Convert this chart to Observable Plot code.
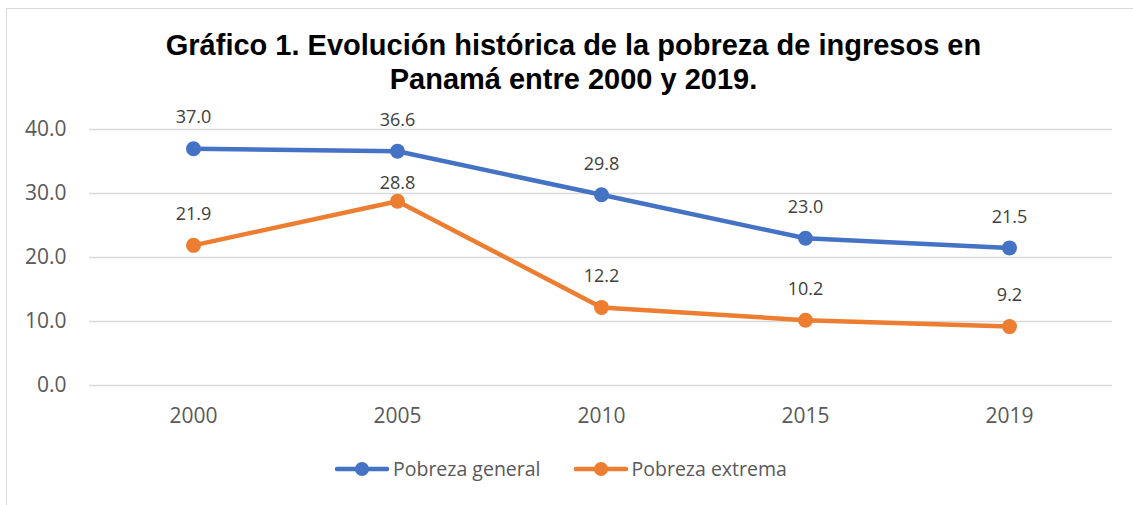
<!DOCTYPE html>
<html>
<head>
<meta charset="utf-8">
<script src="https://cdn.jsdelivr.net/npm/d3@7"></script>
<script src="https://cdn.jsdelivr.net/npm/@observablehq/plot@0.6"></script>
<style>
  html, body { margin: 0; padding: 0; background: #fff; }
  #wrap { position: relative; width: 1133px; height: 505px; overflow: hidden; background: #fff; }
  #frame { position: absolute; left: 6px; top: 8px; width: 1140px; height: 510px; border-top: 1.5px solid #d9d9d9; border-left: 1.5px solid #d9d9d9; box-sizing: border-box; }
  #title { position: absolute; left: 0; top: 28px; width: 1147px; text-align: center; font-family: "Liberation Sans", Arial, sans-serif; font-weight: bold; font-size: 29px; line-height: 34px; color: #000; }
  #chart { position: absolute; left: 0; top: 96px; }
  #legend { position: absolute; left: 335px; top: 455px; display: flex; align-items: center; font-family: "Open Sans", sans-serif; font-size: 19.5px; color: #595959; }
  .item { display: flex; align-items: center; margin-right: 33px; }
  .item span { margin-left: 4px; }
</style>
</head>
<body>
<div id="wrap">
  <div id="frame"></div>
  <div id="title">Gráfico 1. Evolución histórica de la pobreza de ingresos en<br>Panamá entre 2000 y 2019.</div>
  <div id="chart"></div>
  <div id="legend"></div>
</div>
<script>
const years = ["2000", "2005", "2010", "2015", "2019"];
const pobrezaGeneral = [37.0, 36.6, 29.8, 23.0, 21.5];
const pobrezaExtrema = [21.9, 28.8, 12.2, 10.2, 9.2];
const seriesNames = ["Pobreza general", "Pobreza extrema"];
const seriesColors = ["#4472C4", "#ED7D31"];
const yTicks = [0, 10, 20, 30, 40];

const data = [];
years.forEach((y, i) => data.push({year: y, value: pobrezaGeneral[i], series: seriesNames[0]}));
years.forEach((y, i) => data.push({year: y, value: pobrezaExtrema[i], series: seriesNames[1]}));

// Excel moved the one label that would crowd the other series closer to its point
const crowded = d => d.series === seriesNames[1] && d.year === "2005";

const chart = Plot.plot({
  width: 1133,
  height: 344,
  marginTop: 33,
  marginBottom: 55,
  marginLeft: 89,
  marginRight: 21,
  style: {fontFamily: "'Open Sans', sans-serif", fontSize: "20px", color: "#595959", background: "transparent", overflow: "visible"},
  x: {type: "point", domain: years, padding: 0.5, label: null},
  y: {domain: [0, 40], label: null},
  color: {domain: seriesNames, range: seriesColors},
  marks: [
    Plot.gridY(yTicks, {stroke: "#d9d9d9", strokeOpacity: 1, strokeWidth: 1.5}),
    Plot.axisY(yTicks, {tickSize: 0, tickPadding: 23, tickFormat: d3.format(".1f"), fill: "#595959", fontSize: 21, label: null}),
    Plot.axisX(years, {tickSize: 0, tickPadding: 23, fill: "#595959", fontSize: 21, label: null}),
    Plot.line(data, {x: "year", y: "value", z: "series", stroke: "series", strokeWidth: 4.5, strokeLinecap: "round", strokeLinejoin: "round"}),
    Plot.dot(data, {x: "year", y: "value", fill: "series", r: 7.5}),
    Plot.text(data.filter(d => !crowded(d)), {x: "year", y: "value", text: d => d.value.toFixed(1), dy: -31, fill: "#404040", fontSize: 18}),
    Plot.text(data.filter(crowded), {x: "year", y: "value", text: d => d.value.toFixed(1), dy: -18, fill: "#404040", fontSize: 18})
  ]
});
document.getElementById("chart").appendChild(chart);

const legend = document.getElementById("legend");
seriesNames.forEach((name, i) => {
  const item = document.createElement("div");
  item.className = "item";
  const c = seriesColors[i];
  item.innerHTML = `<svg width="54" height="18"><line x1="2" y1="9" x2="52" y2="9" stroke="${c}" stroke-width="4.5" stroke-linecap="round"/><circle cx="27" cy="9" r="7" fill="${c}"/></svg><span>${name}</span>`;
  legend.appendChild(item);
});
</script>
</body>
</html>
